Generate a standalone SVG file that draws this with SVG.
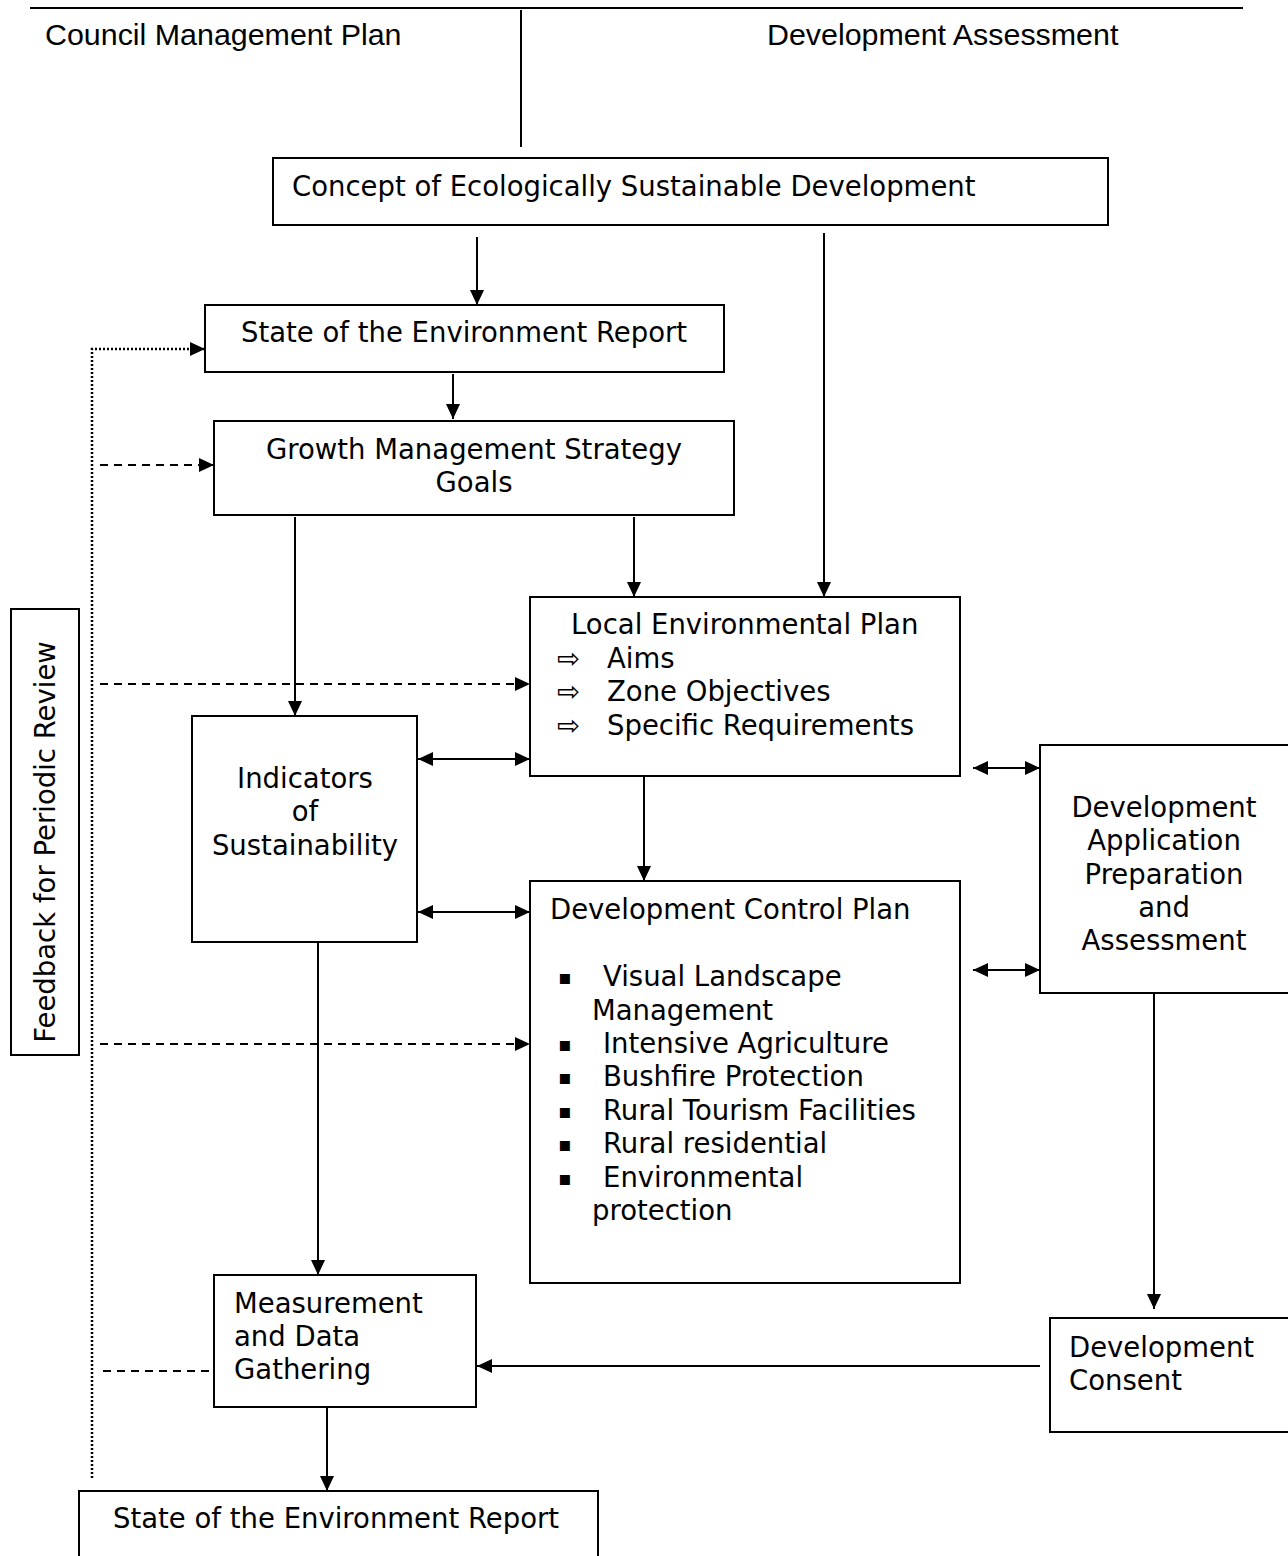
<svg xmlns="http://www.w3.org/2000/svg" width="1288" height="1556" viewBox="0 0 1288 1556">
<defs>
<marker id="ah" markerUnits="userSpaceOnUse" markerWidth="16" markerHeight="14" refX="15" refY="7" orient="auto-start-reverse">
<path d="M0,0 L15,7 L0,14 z" fill="#000"/>
</marker>
</defs>
<style>
.box{fill:#fff;stroke:#000;stroke-width:2}
.t{font-family:"DejaVu Sans",Verdana,sans-serif;font-size:27.5px;fill:#000}
.h{font-family:"Liberation Sans",Arial,sans-serif;font-size:30.4px;fill:#000}
.c{text-anchor:middle}
.ln{fill:none;stroke:#000;stroke-width:2}
.dash{stroke-dasharray:8,6}
.dot{stroke-dasharray:2,2;stroke-width:2.5}
.arr{marker-end:url(#ah)}
.dbl{marker-start:url(#ah);marker-end:url(#ah)}
.bul{font-family:"DejaVu Sans",sans-serif;font-size:20px}
</style>
<rect width="1288" height="1556" fill="#fff"/>
<g id="header">
<line x1="30" y1="8" x2="1243" y2="8" class="ln" stroke-width="2.5"/>
<line x1="521" y1="10" x2="521" y2="147" class="ln"/>
<text class="h" x="45" y="45">Council Management Plan</text>
<text class="h" x="767" y="45">Development Assessment</text>
</g>
<g id="connectors">
<line x1="477" y1="237" x2="477" y2="305" class="ln arr"/>
<line x1="824" y1="233" x2="824" y2="597" class="ln arr"/>
<line x1="453" y1="374" x2="453" y2="419" class="ln arr"/>
<line x1="634" y1="517" x2="634" y2="597" class="ln arr"/>
<line x1="295" y1="517" x2="295" y2="716" class="ln arr"/>
<line x1="418" y1="759" x2="530" y2="759" class="ln dbl"/>
<line x1="418" y1="912" x2="530" y2="912" class="ln dbl"/>
<line x1="644" y1="771" x2="644" y2="881" class="ln arr"/>
<line x1="973" y1="768" x2="1040" y2="768" class="ln dbl"/>
<line x1="973" y1="970" x2="1040" y2="970" class="ln dbl"/>
<line x1="318" y1="936" x2="318" y2="1275" class="ln arr"/>
<line x1="1154" y1="993" x2="1154" y2="1309" class="ln arr"/>
<line x1="1040" y1="1366" x2="477" y2="1366" class="ln arr"/>
<line x1="327" y1="1402" x2="327" y2="1491" class="ln arr"/>
<polyline points="92,1478 92,349 205,349" class="ln dot arr"/>
<line x1="100" y1="465" x2="214" y2="465" class="ln dash arr"/>
<line x1="100" y1="684" x2="530" y2="684" class="ln dash arr"/>
<line x1="100" y1="1044" x2="530" y2="1044" class="ln dash arr"/>
<line x1="103" y1="1371" x2="214" y2="1371" class="ln dash"/>
</g>
<g id="concept">
<rect class="box" x="273" y="158" width="835" height="67"/>
<text class="t" x="292" y="196">Concept of Ecologically Sustainable Development</text>
</g>
<g id="soe-top">
<rect class="box" x="205" y="305" width="519" height="67"/>
<text class="t c" x="464" y="342">State of the Environment Report</text>
</g>
<g id="gms">
<rect class="box" x="214" y="421" width="520" height="94"/>
<text class="t c" x="474" y="459">Growth Management Strategy</text>
<text class="t c" x="474" y="492">Goals</text>
</g>
<g id="lep">
<rect class="box" x="530" y="597" width="430" height="179"/>
<text class="t" x="571" y="634">Local Environmental Plan</text>
<text class="t" x="557" y="668" font-size="20">⇨</text>
<text class="t" x="607" y="668">Aims</text>
<text class="t" x="557" y="701" font-size="20">⇨</text>
<text class="t" x="607" y="701">Zone Objectives</text>
<text class="t" x="557" y="735" font-size="20">⇨</text>
<text class="t" x="607" y="735">Specific Requirements</text>
</g>
<g id="indicators">
<rect class="box" x="192" y="716" width="225" height="226"/>
<text class="t c" x="305" y="788">Indicators</text>
<text class="t c" x="305" y="821">of</text>
<text class="t c" x="305" y="855">Sustainability</text>
</g>
<g id="dcp">
<rect class="box" x="530" y="881" width="430" height="402"/>
<text class="t" x="550" y="919">Development Control Plan</text>
<text class="t bul" x="558" y="984">▪</text>
<text class="t" x="603" y="986">Visual Landscape</text>
<text class="t" x="592" y="1020">Management</text>
<text class="t bul" x="558" y="1051">▪</text>
<text class="t" x="603" y="1053">Intensive Agriculture</text>
<text class="t bul" x="558" y="1084">▪</text>
<text class="t" x="603" y="1086">Bushfire Protection</text>
<text class="t bul" x="558" y="1118">▪</text>
<text class="t" x="603" y="1120">Rural Tourism Facilities</text>
<text class="t bul" x="558" y="1151">▪</text>
<text class="t" x="603" y="1153">Rural residential</text>
<text class="t bul" x="558" y="1185">▪</text>
<text class="t" x="603" y="1187">Environmental</text>
<text class="t" x="592" y="1220">protection</text>
</g>
<g id="dev-app">
<rect class="box" x="1040" y="745" width="260" height="248"/>
<text class="t c" x="1164" y="817">Development</text>
<text class="t c" x="1164" y="850">Application</text>
<text class="t c" x="1164" y="884">Preparation</text>
<text class="t c" x="1164" y="917">and</text>
<text class="t c" x="1164" y="950">Assessment</text>
</g>
<g id="measurement">
<rect class="box" x="214" y="1275" width="262" height="132"/>
<text class="t" x="234" y="1313">Measurement</text>
<text class="t" x="234" y="1346">and Data</text>
<text class="t" x="234" y="1379">Gathering</text>
</g>
<g id="dev-consent">
<rect class="box" x="1050" y="1318" width="250" height="114"/>
<text class="t" x="1069" y="1357">Development</text>
<text class="t" x="1069" y="1390">Consent</text>
</g>
<g id="soe-bottom">
<rect class="box" x="79" y="1491" width="519" height="80"/>
<text class="t" x="113" y="1528">State of the Environment Report</text>
</g>
<g id="feedback">
<rect class="box" x="11" y="609" width="68" height="446"/>
<text class="t c" transform="translate(55,842) rotate(-90)">Feedback for Periodic Review</text>
</g>
</svg>
